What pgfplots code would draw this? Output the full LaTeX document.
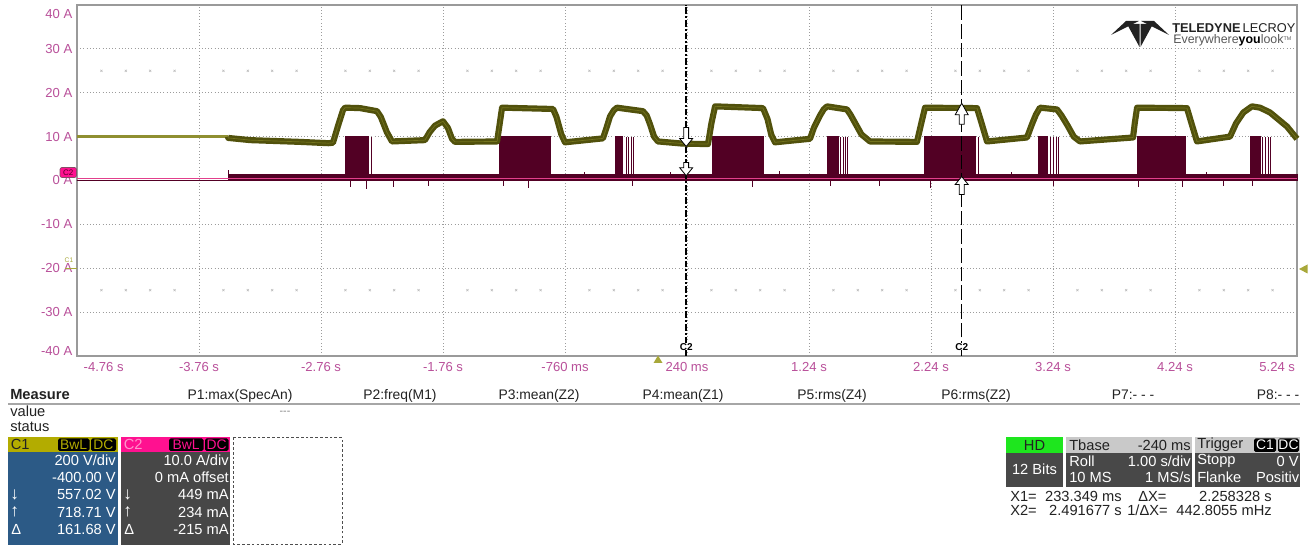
\documentclass[border=0pt]{standalone}
\usepackage{fontspec}
\setmainfont{Liberation Sans}
\usepackage{pgfplots}
\pgfplotsset{compat=1.18}
\usepackage{pgfplotstable}

\definecolor{tickpink}{HTML}{B9509A}
\definecolor{c1dark}{HTML}{51510C}
\definecolor{c1light}{HTML}{A8A83A}
\definecolor{c2dark}{HTML}{520024}
\definecolor{c2pink}{HTML}{E2408C}
\definecolor{gridgray}{HTML}{9C9C9C}
\definecolor{framegray}{HTML}{9A9A9A}
\definecolor{c1head}{HTML}{B3AC00}
\definecolor{c1body}{HTML}{2C5A86}
\definecolor{c2head}{HTML}{FF1190}
\definecolor{c2body}{HTML}{474747}
\definecolor{hdgreen}{HTML}{1EE61E}
\definecolor{lightgrey}{HTML}{C9C9C9}
\definecolor{darkbox}{HTML}{484848}
\definecolor{txt}{HTML}{222222}

\newcommand\tickfont{\fontsize{9.8}{11}\selectfont}
\newcommand\fsz{\fontsize{11}{13}\selectfont}
\newcommand\hsz{\fontsize{10.4}{12}\selectfont}

% C1 trace (displayed in A units of the screen)
\pgfplotstableread{
t a
-4.76 10.0
-3.522 10.0
}\cOneFlat

\pgfplotstableread{
t a
-3.522 10.0
-3.52 9.7
-3.34 9.2
-2.93 8.8
-2.70 8.5
-2.662 8.6
-2.62 12.5
-2.58 16.0
-2.563 16.6
-2.44 16.5
-2.301 15.8
-2.27 14.5
-2.22 11.0
-2.178 8.9
-1.908 9.2
-1.87 11.0
-1.826 12.5
-1.76 13.5
-1.72 12.0
-1.686 9.5
-1.662 8.8
-1.317 8.9
-1.30 12.0
-1.276 16.6
-0.858 16.3
-0.83 14.5
-0.79 10.5
-0.760 8.7
-0.449 9.6
-0.42 12.0
-0.391 14.6
-0.36 16.0
-0.334 16.6
-0.121 15.8
-0.09 14.8
-0.063 12.8
-0.03 10.0
0.002 8.9
0.207 8.4
0.412 8.3
0.44 13.0
0.470 16.9
0.863 16.5
0.90 14.0
0.93 10.5
0.961 8.7
1.248 9.5
1.28 12.0
1.33 14.8
1.36 16.2
1.388 16.9
1.551 16.2
1.58 15.0
1.62 13.0
1.67 10.5
1.740 8.9
2.125 8.8
2.16 13.0
2.191 16.6
2.617 16.5
2.65 13.5
2.699 8.9
3.027 9.8
3.07 13.0
3.10 15.0
3.133 16.6
3.273 16.2
3.31 14.8
3.36 12.5
3.41 10.0
3.461 8.9
3.896 9.8
3.91 13.0
3.929 16.6
4.338 16.5
4.37 13.5
4.420 8.9
4.691 10.0
4.74 13.0
4.80 15.5
4.871 16.9
4.937 16.6
5.019 15.5
5.158 12.3
5.24 9.5
}\cOne

% C2 trace: baseline band and filled bursts (const plot)
\pgfplotstableread{
t a
-4.76 0
-3.522 1.3
-2.555 10
-2.375 1.3
-1.293 10
-0.883 1.3
-0.342 10
-0.285 1.3
0.453 10
0.863 1.3
1.388 10
1.478 1.3
2.191 10
2.601 1.3
3.125 10
3.191 1.3
3.929 10
4.322 1.3
4.863 10
4.937 1.3
5.24 1.3
}\cTwo

% C2 isolated switching lines
\pgfplotstableread{
t a
-2.350 10
-0.260 10
-0.244 10
-0.219 10
-0.203 10
1.494 10
1.519 10
1.535 10
1.551 10
2.625 10
3.215 10
3.240 10
3.264 10
3.281 10
4.953 10
4.978 10
5.002 10
5.019 10
}\cTwoLines

% C2 noise spikes
\pgfplotstableread{
t a
-3.515 2.3
-2.522 -1.5
-2.391 -2.0
-2.170 -1.4
-1.883 -1.3
-1.268 -1.2
-1.063 -1.6
-0.600 1.9
-0.211 -1.2
0.100 2.0
0.773 -1.5
1.000 2.1
1.412 -1.3
1.820 -1.2
2.232 -1.6
2.900 2.0
3.240 -1.2
3.937 -1.4
4.297 -1.5
4.500 2.0
4.633 -1.2
4.871 -1.2
}\cTwoSpikes

% graticule dots on the +/-25 A rows
\pgfplotstableread{
t up dn
-4.56 25 -25
-4.36 25 -25
-4.16 25 -25
-3.96 25 -25
-3.56 25 -25
-3.36 25 -25
-3.16 25 -25
-2.96 25 -25
-2.56 25 -25
-2.36 25 -25
-2.16 25 -25
-1.96 25 -25
-1.56 25 -25
-1.36 25 -25
-1.16 25 -25
-0.96 25 -25
-0.56 25 -25
-0.36 25 -25
-0.16 25 -25
0.04 25 -25
0.44 25 -25
0.64 25 -25
0.84 25 -25
1.04 25 -25
1.44 25 -25
1.64 25 -25
1.84 25 -25
2.04 25 -25
2.44 25 -25
2.64 25 -25
2.84 25 -25
3.04 25 -25
3.44 25 -25
3.64 25 -25
3.84 25 -25
4.04 25 -25
4.44 25 -25
4.64 25 -25
4.84 25 -25
5.04 25 -25
}\gridmarks

\pgfplotstableread{
t a
-4.76 0.4
5.24 0.4
}\cTwoRef

\begin{document}
\begin{tikzpicture}
\useasboundingbox (0pt,0pt) rectangle (985.5pt,408.75pt);
\fill[white] (0pt,0pt) rectangle (985.5pt,408.75pt);

\begin{axis}[
  at={(57.75pt,141.75pt)}, anchor=south west,
  width=915pt, height=263.25pt, scale only axis,
  xmin=-4.76, xmax=5.24, ymin=-40, ymax=40,
  xtick={-4.76,-3.76,-2.76,-1.76,-0.76,0.24,1.24,2.24,3.24,4.24,5.24},
  xticklabels={,{-3.76 s},{-2.76 s},{-1.76 s},{-760 ms},{240 ms},{1.24 s},{2.24 s},{3.24 s},{4.24 s},},
  ytick={-40,-30,-20,-10,0,10,20,30,40},
  yticklabels={,{-30 A},{-20 A},{-10 A},{0 A},{10 A},{20 A},{30 A},},
  grid=major,
  major grid style={gridgray, dotted, line width=0.7pt},
  axis line style={framegray, line width=1.3pt},
  major tick length=0pt,
  tick label style={font=\tickfont, text=tickpink},
  xticklabel style={yshift=-1pt},
  /pgf/number format/assume math mode=true,
  clip=false,
]
\addplot[only marks, mark=x, mark size=1.1pt, gray!50, line width=0.45pt] table[x=t,y=up] {\gridmarks};
\addplot[only marks, mark=x, mark size=1.1pt, gray!50, line width=0.45pt] table[x=t,y=dn] {\gridmarks};

% C2
\addplot[const plot, draw=c2dark, fill=c2dark, line width=0.8pt] table[x=t,y=a] {\cTwo} \closedcycle;
\addplot[ycomb, draw=c2dark, line width=0.6pt] table[x=t,y=a] {\cTwoLines};
\addplot[ycomb, draw=c2dark, line width=0.6pt] table[x=t,y=a] {\cTwoSpikes};
\addplot[c2pink, line width=0.9pt] table[x=t,y=a] {\cTwoRef};

% C1
\addplot[c1light!85!black, line width=1.8pt] table[x=t,y=a] {\cOneFlat};
\addplot[c1dark, line width=4.6pt, line join=round] table[x=t,y=a] {\cOne};
\addplot[c1dark!60!c1light, line width=0.5pt, line join=round] table[x=t,y=a] {\cOne};

% cursors
\draw[black, line width=1.6pt, dash pattern=on 5pt off 1.5pt on 1.5pt off 1.5pt] (axis cs:0.2333,-40) -- (axis cs:0.2333,40);
\draw[black, line width=0.8pt, dash pattern=on 11pt off 3pt] (axis cs:2.4917,-40) -- (axis cs:2.4917,40);
\node[font=\fontsize{7.5}{8}\selectfont\bfseries, inner sep=0pt, fill=white] at (axis cs:0.2333,-40) [yshift=6.8pt] {C2};
\node[font=\fontsize{7.5}{8}\selectfont\bfseries, inner sep=0pt, fill=white] at (axis cs:2.4917,-40) [yshift=6.8pt] {C2};

% cursor arrows
\draw[fill=white, line width=0.6pt] (axis cs:0.2133,12.1) -- (axis cs:0.2533,12.1) -- (axis cs:0.2533,9.55) -- (axis cs:0.2863,9.55) -- (axis cs:0.2333,7.75) -- (axis cs:0.1803,9.55) -- (axis cs:0.2133,9.55) -- cycle;
\draw[fill=white, line width=0.6pt] (axis cs:0.2133,4.1) -- (axis cs:0.2533,4.1) -- (axis cs:0.2533,2.9) -- (axis cs:0.2863,2.9) -- (axis cs:0.2333,1.1) -- (axis cs:0.1803,2.9) -- (axis cs:0.2133,2.9) -- cycle;
\draw[fill=white, line width=0.6pt] (axis cs:2.4717,12.8) -- (axis cs:2.5117,12.8) -- (axis cs:2.5117,15.0) -- (axis cs:2.5447,15.0) -- (axis cs:2.4917,17.6) -- (axis cs:2.4387,15.0) -- (axis cs:2.4717,15.0) -- cycle;
\draw[fill=white, line width=0.6pt] (axis cs:2.4717,-3.2) -- (axis cs:2.5117,-3.2) -- (axis cs:2.5117,-0.9) -- (axis cs:2.5447,-0.9) -- (axis cs:2.4917,0.9) -- (axis cs:2.4387,-0.9) -- (axis cs:2.4717,-0.9) -- cycle;

% end tick labels
\node[anchor=north west, font=\tickfont, text=tickpink] at (axis cs:-4.76,-40) [xshift=1.5pt, yshift=-1pt] {-4.76 s};
\node[anchor=north east, font=\tickfont, text=tickpink] at (axis cs:5.24,-40) [xshift=2pt, yshift=-1pt] {5.24 s};
\node[anchor=east, font=\tickfont, text=tickpink] at (axis cs:-4.76,40) [yshift=-6.8pt] {40 A};
\node[anchor=east, font=\tickfont, text=tickpink] at (axis cs:-4.76,-40) [yshift=3.5pt] {-40 A};
\end{axis}

\begin{scope}[shift={(0pt,408.75pt)}, x=0.75pt, y=-0.75pt]
% channel tags on the grid
\draw[fill=c2head, draw=c2dark!70, rounded corners=1.5pt, line width=0.5pt] (60,167.5) rectangle (76.5,177.5);
\node[font=\fontsize{6}{6}\selectfont, text=c2dark, inner sep=0pt] at (68.2,172.6) {C2};
\draw[c1light, line width=1pt] (65,268.5) -- (77,268.5);
\node[font=\fontsize{5}{5}\selectfont, text=c1light, inner sep=0pt] at (69,260) {C1};
\fill[c1light] (1299,269) -- (1307.5,264.5) -- (1307.5,273.5) -- cycle;
\fill[c1light] (658,355.5) -- (653.5,363) -- (662.5,363) -- cycle;

% logo
\fill[txt] (1111,35) -- (1126,21) -- (1139,21) -- cycle;
\fill[txt] (1169,35) -- (1154,21) -- (1141,21) -- cycle;
\fill[txt] (1127,24) -- (1139.5,24) -- (1139.5,47) -- cycle;
\fill[txt] (1140.5,24) -- (1153,24) -- (1140.5,47) -- cycle;
\node[anchor=base west, inner sep=0pt, text=txt, font=\fontsize{9.6}{10}\selectfont] at (1172,33) {\textbf{TELEDYNE}\,LECROY};
\node[anchor=base west, inner sep=0pt, text=black!65, font=\fontsize{9.3}{10}\selectfont] at (1173,44) {Everywhere\textbf{\textcolor{black}{you}}look\raisebox{2.5pt}{\fontsize{4}{4}\selectfont TM}};

% measure table
\node[anchor=base west, inner sep=0pt, text=txt, font=\fsz\bfseries] at (10,400) {Measure};
\node[anchor=base, inner sep=0pt, text=txt, font=\hsz] at (240,400) {P1:max(SpecAn)};
\node[anchor=base, inner sep=0pt, text=txt, font=\hsz] at (400,400) {P2:freq(M1)};
\node[anchor=base, inner sep=0pt, text=txt, font=\hsz] at (539,400) {P3:mean(Z2)};
\node[anchor=base, inner sep=0pt, text=txt, font=\hsz] at (683,400) {P4:mean(Z1)};
\node[anchor=base, inner sep=0pt, text=txt, font=\hsz] at (832,400) {P5:rms(Z4)};
\node[anchor=base, inner sep=0pt, text=txt, font=\hsz] at (976,400) {P6:rms(Z2)};
\node[anchor=base, inner sep=0pt, text=txt, font=\hsz] at (1133,400) {P7:- - -};
\node[anchor=base, inner sep=0pt, text=txt, font=\hsz] at (1278,400) {P8:- - -};
\draw[gray!70, line width=0.8pt] (8,404) -- (1300,404);
\node[anchor=base west, inner sep=0pt, text=txt, font=\fsz] at (10,417) {value};
\node[anchor=base west, inner sep=0pt, text=txt, font=\fsz] at (10,432) {status};
\node[inner sep=0pt, text=gray, font=\fontsize{8}{8}\selectfont] at (285,413) {-{}-{}-};

% C1 box
\fill[c1head] (8,437) rectangle (118,452);
\fill[c1body] (8,452) rectangle (118,545);
\node[anchor=west, inner sep=0pt, text=txt, font=\fsz] at (10.5,444.5) {C1};
\fill[black, rounded corners=1.2pt] (58,438.5) rectangle (89.5,451);
\fill[black, rounded corners=1.2pt] (91,438.5) rectangle (116,451);
\node[inner sep=0pt, text=c1head, font=\hsz] at (73.7,444.8) {BwL};
\node[inner sep=0pt, text=c1head, font=\hsz] at (103.5,444.8) {DC};
\node[anchor=east, inner sep=0pt, text=white, font=\fsz] at (116,460) {200 V/div};
\node[anchor=east, inner sep=0pt, text=white, font=\fsz] at (116,477) {-400.00 V};
\node[anchor=east, inner sep=0pt, text=white, font=\fsz] at (116,494.5) {557.02 V};
\node[anchor=east, inner sep=0pt, text=white, font=\fsz] at (116,512) {718.71 V};
\node[anchor=east, inner sep=0pt, text=white, font=\fsz] at (116,529.5) {161.68 V};
\node[anchor=west, inner sep=0pt, text=white, font=\fontsize{13}{13}\selectfont] at (10,494.5) {↓};
\node[anchor=west, inner sep=0pt, text=white, font=\fontsize{13}{13}\selectfont] at (10,512) {↑};
\node[anchor=west, inner sep=0pt, text=white, font=\fsz] at (11,529.5) {Δ};

% C2 box
\fill[c2head] (121,437) rectangle (230,452);
\fill[c2body] (121,452) rectangle (230,545);
\node[anchor=west, inner sep=0pt, text=c2head!45!white, font=\fsz] at (123.5,444.5) {C2};
\fill[black, rounded corners=1.2pt] (169,438.5) rectangle (203.5,451);
\fill[black, rounded corners=1.2pt] (205,438.5) rectangle (228.5,451);
\node[inner sep=0pt, text=c2head, font=\hsz] at (186.2,444.8) {BwL};
\node[inner sep=0pt, text=c2head, font=\hsz] at (216.7,444.8) {DC};
\node[anchor=east, inner sep=0pt, text=white, font=\fsz] at (229,460) {10.0 A/div};
\node[anchor=east, inner sep=0pt, text=white, font=\fsz] at (229,477) {0 mA offset};
\node[anchor=east, inner sep=0pt, text=white, font=\fsz] at (229,494.5) {449 mA};
\node[anchor=east, inner sep=0pt, text=white, font=\fsz] at (229,512) {234 mA};
\node[anchor=east, inner sep=0pt, text=white, font=\fsz] at (229,529.5) {-215 mA};
\node[anchor=west, inner sep=0pt, text=white, font=\fontsize{13}{13}\selectfont] at (123,494.5) {↓};
\node[anchor=west, inner sep=0pt, text=white, font=\fontsize{13}{13}\selectfont] at (123,512) {↑};
\node[anchor=west, inner sep=0pt, text=white, font=\fsz] at (124,529.5) {Δ};

% empty dashed box
\draw[txt!80, line width=0.7pt, dash pattern=on 2pt off 1.6pt] (233.5,437.5) rectangle (342,544);

% timebase / trigger boxes
\fill[hdgreen] (1006,437) rectangle (1063,453);
\fill[darkbox] (1006,453) rectangle (1063,487);
\node[inner sep=0pt, text=txt, font=\fsz] at (1034.5,445) {HD};
\node[inner sep=0pt, text=white, font=\fsz] at (1034.5,469) {12 Bits};

\fill[lightgrey] (1066,437) rectangle (1192,453);
\fill[darkbox] (1066,453) rectangle (1192,487);
\node[anchor=west, inner sep=0pt, text=txt, font=\fsz] at (1069,445) {Tbase};
\node[anchor=east, inner sep=0pt, text=txt, font=\fsz] at (1191,445) {-240 ms};
\node[anchor=west, inner sep=0pt, text=white, font=\fsz] at (1069,461) {Roll};
\node[anchor=east, inner sep=0pt, text=white, font=\fsz] at (1191,461) {1.00 s/div};
\node[anchor=west, inner sep=0pt, text=white, font=\fsz] at (1069,477) {10 MS};
\node[anchor=east, inner sep=0pt, text=white, font=\fsz] at (1191,477) {1 MS/s};

\fill[lightgrey] (1195,437) rectangle (1300,453);
\fill[darkbox] (1195,453) rectangle (1300,487);
\node[anchor=west, inner sep=0pt, text=txt, font=\fsz] at (1197,445) {Trigger};
\fill[black, rounded corners=1.2pt] (1254,438.5) rectangle (1276,452);
\fill[black, rounded corners=1.2pt] (1278,438.5) rectangle (1299,452);
\node[inner sep=0pt, text=white, font=\hsz] at (1265,445) {C1};
\node[inner sep=0pt, text=white, font=\hsz] at (1288.5,445) {DC};
\node[anchor=west, inner sep=0pt, text=white, font=\fsz] at (1197,461) {Stopp};
\node[anchor=east, inner sep=0pt, text=white, font=\fsz] at (1299,461) {0 V};
\node[anchor=west, inner sep=0pt, text=white, font=\fsz] at (1197,477) {Flanke};
\node[anchor=east, inner sep=0pt, text=white, font=\fsz] at (1299.5,477) {Positiv};

\node[anchor=west, inner sep=0pt, text=txt, font=\fsz] at (1010,496) {X1=};
\node[anchor=east, inner sep=0pt, text=txt, font=\fsz] at (1122,496) {233.349 ms};
\node[anchor=west, inner sep=0pt, text=txt, font=\fsz] at (1138,496) {ΔX=};
\node[anchor=east, inner sep=0pt, text=txt, font=\fsz] at (1272,496) {2.258328 s};
\node[anchor=west, inner sep=0pt, text=txt, font=\fsz] at (1010,510.5) {X2=};
\node[anchor=east, inner sep=0pt, text=txt, font=\fsz] at (1122,510.5) {2.491677 s};
\node[anchor=west, inner sep=0pt, text=txt, font=\fsz] at (1127,510.5) {1/ΔX=};
\node[anchor=east, inner sep=0pt, text=txt, font=\fsz] at (1272,510.5) {442.8055 mHz};
\end{scope}
\end{tikzpicture}
\end{document}
